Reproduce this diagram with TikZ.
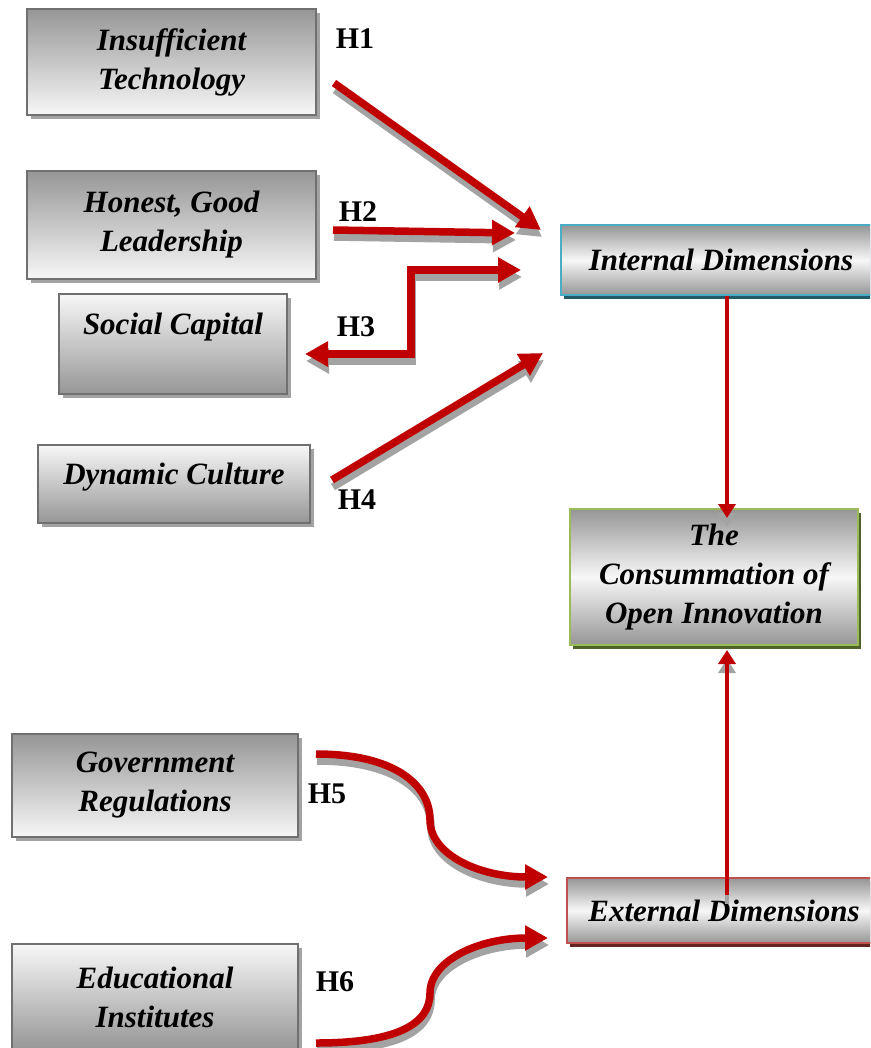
\documentclass[tikz,border=0pt]{standalone}
\usepackage{fontspec}
\setmainfont{Liberation Serif}
\usetikzlibrary{arrows.meta,shadows}
\definecolor{arrred}{HTML}{C00000}
\definecolor{boxgray}{HTML}{969696}
\definecolor{boxlight}{HTML}{F7F7F7}
\definecolor{boxborder}{HTML}{707070}
\definecolor{shadowgray}{HTML}{A3A3A3}
\definecolor{blueborder}{HTML}{4BACC6}
\definecolor{blueshadow}{HTML}{215968}
\definecolor{greenborder}{HTML}{9BBB59}
\definecolor{greenshadow}{HTML}{4F6228}
\definecolor{redborder}{HTML}{C0504D}
\definecolor{redshadow}{HTML}{632523}
\tikzset{
  box/.style={draw=boxborder, line width=1.5pt, rectangle, inner sep=0pt, align=center,
    font=\bfseries\itshape\fontsize{31}{39}\selectfont,
    drop shadow={shadow xshift=4pt, shadow yshift=-4pt, fill=shadowgray, opacity=1}},
  cbox/.style={rectangle, inner sep=0pt, align=center, line width=1.8pt,
    font=\bfseries\itshape\fontsize{31}{39}\selectfont,
    top color=boxgray, bottom color=boxgray, middle color=boxlight},
  graydown/.style={top color=boxgray, bottom color=boxlight},
  grayup/.style={top color=boxlight, bottom color=boxgray},
  hlab/.style={font=\bfseries\fontsize{30}{32}\selectfont, inner sep=0pt},
  bigarrow/.style={draw=arrred, line width=7.5pt, -{Triangle[width=24pt,length=23pt]},
    preaction={draw=shadowgray, line width=7.5pt, -{Triangle[width=24pt,length=23pt]},
      transform canvas={xshift=1pt,yshift=-7pt}}},
  bigdouble/.style={draw=arrred, line width=7.5pt, {Triangle[width=24pt,length=23pt]}-{Triangle[width=24pt,length=23pt]},
    preaction={draw=shadowgray, line width=7.5pt, {Triangle[width=24pt,length=23pt]}-{Triangle[width=24pt,length=23pt]},
      transform canvas={xshift=1pt,yshift=-7pt}}},
  thinarrow/.style={draw=arrred, line width=4pt, -{Triangle[width=17pt,length=14pt]},
    preaction={draw=shadowgray, line width=4pt, -{Triangle[width=17pt,length=14pt]},
      transform canvas={xshift=0pt,yshift=-9pt}}}
}
\begin{document}
\begin{tikzpicture}[x=1pt,y=-1pt]
\clip (0,0) rectangle (870,1048);
\fill[white] (0,0) rectangle (870,1048);

% left boxes
\node[box, graydown, minimum width=289pt, minimum height=106pt] (tech) at (171.5,62) {Insufficient\\Technology};
\node[box, graydown, minimum width=289pt, minimum height=108pt] (lead) at (171.5,225) {Honest, Good\\Leadership};
\node[box, grayup, minimum width=228pt, minimum height=100pt, text height=22pt, text depth=42pt] (soc) at (173,344) {Social Capital};
\node[box, grayup, minimum width=272pt, minimum height=78pt, text height=22pt, text depth=22pt] (dyn) at (174,484) {Dynamic Culture};
\node[box, graydown, minimum width=286pt, minimum height=103pt] (gov) at (155,785.5) {Government\\Regulations};
\node[box, grayup, minimum width=286pt, minimum height=106pt] (edu) at (155,997) {Educational\\Institutes};

% right boxes
\node[cbox, draw=blueborder, minimum width=320pt, minimum height=70pt,
  drop shadow={shadow xshift=3pt, shadow yshift=-4pt, fill=blueshadow, opacity=1}] (int) at (721,260) {Internal Dimensions};
\node[cbox, draw=greenborder, minimum width=288pt, minimum height=136pt,
  drop shadow={shadow xshift=3pt, shadow yshift=-4pt, fill=greenshadow, opacity=1}] (cons) at (714,577) {The\\Consummation of\\Open Innovation};
\node[cbox, draw=redborder, minimum width=314pt, minimum height=65pt,
  drop shadow={shadow xshift=3pt, shadow yshift=-4pt, fill=redshadow, opacity=1}] (ext) at (724,910.5) {External Dimensions};

% labels
\node[hlab] (h1) at (355,39) {H1};
\node[hlab] (h2) at (358,212) {H2};
\node[hlab] (h3) at (356,327) {H3};
\node[hlab] (h4) at (357,500) {H4};
\node[hlab] (h5) at (327,794) {H5};
\node[hlab] (h6) at (335,982) {H6};

% arrow end points
\coordinate (a1s) at (334,83);
\coordinate (a1e) at (541,230);
\coordinate (a2s) at (333,230);
\coordinate (a2e) at (515,233);
\coordinate (a3s) at (521,270);
\coordinate (a3k1) at (411,270);
\coordinate (a3k2) at (411,354);
\coordinate (a3e) at (305,354);
\coordinate (a4s) at (332,480);
\coordinate (a4e) at (543,353);
\coordinate (a5s) at (316,754);
\coordinate (a5e) at (548,877);
\coordinate (a6s) at (316,1043);
\coordinate (a6e) at (548,938);
\coordinate (v1e) at (727,518);
\coordinate (v2s) at (727,895);
\coordinate (v2e) at (727,650);

\draw[bigarrow] (a1s) -- (a1e);
\draw[bigarrow] (a2s) -- (a2e);
\draw[bigdouble] (a3s) -- (a3k1) -- (a3k2) -- (a3e);
\draw[bigarrow] (a4s) -- (a4e);
\draw[bigarrow] (a5s) .. controls (395,754) and (430,785) .. (430,820) .. controls (430,855) and (480,877) .. (a5e);
\draw[bigarrow] (a6s) .. controls (395,1043) and (430,1025) .. (430,993) .. controls (430,960) and (480,938) .. (a6e);

\draw[thinarrow] (int.south -| v1e) -- (v1e);
\draw[thinarrow] (v2s) -- (v2e);
\end{tikzpicture}
\end{document}
